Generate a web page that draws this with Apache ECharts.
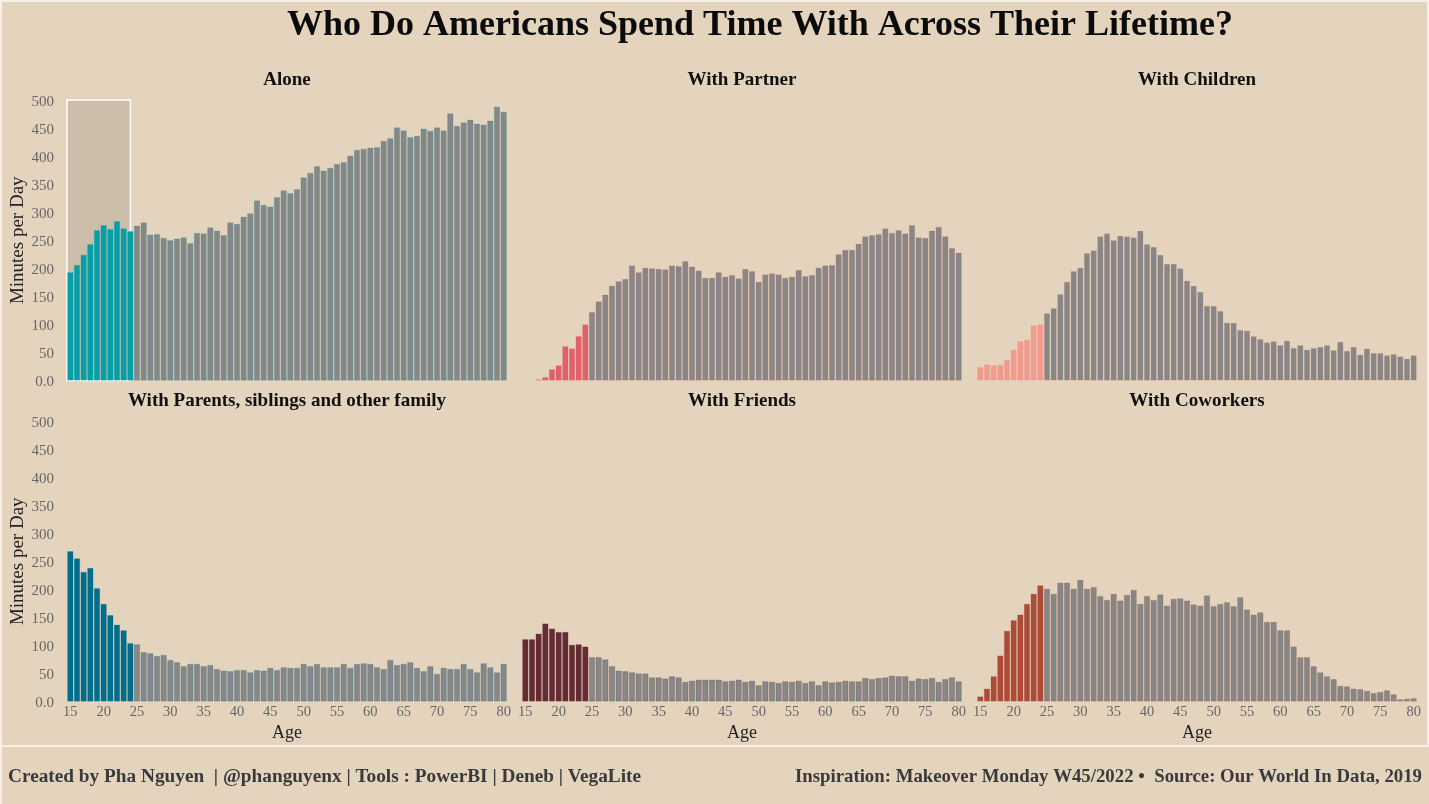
<!DOCTYPE html>
<html><head><meta charset="utf-8">
<style>html,body{margin:0;padding:0;background:#E4D4BD}#c{width:1429px;height:804px}</style>
<script src="https://cdn.jsdelivr.net/npm/echarts@6/dist/echarts.min.js"></script></head>
<body><div id="c"></div>
<script>
const ages=[15,16,17,18,19,20,21,22,23,24,25,26,27,28,29,30,31,32,33,34,35,36,37,38,39,40,41,42,43,44,45,46,47,48,49,50,51,52,53,54,55,56,57,58,59,60,61,62,63,64,65,66,67,68,69,70,71,72,73,74,75,76,77,78,79,80];
const alone=[193,206,224,243,268,277,270,284,271,266,276,282,260,261,254,250,253,255,245,263,262,273,267,259,282,279,292,298,321,313,310,327,339,334,341,362,370,382,374,379,386,389,401,411,413,415,416,427,432,451,446,434,436,449,445,451,446,476,454,460,465,458,456,463,488,479];
const partner=[0,0,2,6,20,27,61,57,79,100,122,141,153,169,177,181,205,193,201,200,199,198,205,204,213,203,196,183,183,193,185,188,182,199,195,176,189,191,189,183,185,197,186,188,201,205,206,225,233,233,244,257,259,261,271,263,268,262,277,255,254,267,274,257,236,228];
const children=[24,29,27,28,37,55,70,73,98,100,120,129,154,176,195,201,227,232,257,262,250,258,257,255,267,243,238,224,208,208,200,178,169,158,133,133,124,103,103,90,89,79,74,68,70,63,71,58,63,55,58,60,63,54,69,53,60,46,57,49,49,45,47,43,39,45];
const family=[268,255,231,238,202,174,154,137,127,104,102,88,86,81,83,74,70,63,67,67,63,65,58,55,54,56,56,52,56,55,60,56,61,60,60,67,63,67,61,61,61,67,60,67,68,67,61,58,74,65,67,70,60,54,63,49,60,58,58,67,58,52,68,61,52,67];
const friends=[111,111,121,139,130,124,124,101,102,98,79,79,75,63,55,54,52,50,50,43,43,41,45,43,35,37,39,39,39,39,36,37,39,35,37,29,36,35,33,36,35,37,33,36,29,36,34,35,37,36,36,42,40,42,43,46,45,45,37,41,40,42,35,40,43,36];
const coworkers=[9,23,45,82,126,145,155,174,192,207,201,192,212,212,201,217,201,204,188,181,192,180,190,199,174,188,181,191,171,183,184,180,173,171,189,170,174,177,170,186,164,155,159,142,142,127,127,98,79,79,63,52,45,40,28,27,23,22,19,15,17,20,13,4,5,6];
const panelNames=['Alone','With Partner','With Children','With Parents, siblings and other family','With Friends','With Coworkers'];
const panelValues=[alone,partner,children,family,friends,coworkers];
const panelColors=['#069FA8','#E0606C','#F29A8E','#006E8C','#652C35','#AD4B39'];
const highlightAges=[15,24];
const yMax=500, yStep=50, grey='#878787';
const serif='"Liberation Serif","DejaVu Serif",serif';
const lefts=[67,522,977], tops=[100,421], pw=440, ph=280.5;
const alpha=(hex,a)=>hex+Math.round(a*255).toString(16).padStart(2,'0');

const grids=[],xAxes=[],yAxes=[],series=[],titles=[];
panelNames.forEach((name,i)=>{
  const col=i%3,row=Math.floor(i/3);
  grids.push({left:lefts[col],top:tops[row],width:pw,height:ph});
  xAxes.push({type:'category',gridIndex:i,data:ages,boundaryGap:true,
    axisLine:{show:false},axisTick:{show:false},
    axisLabel:{show:row===1,interval:4,margin:3,fontFamily:serif,fontSize:14.5,color:'#666'},
    name:row===1?'Age':'',nameLocation:'middle',nameGap:23,
    nameTextStyle:{fontFamily:serif,fontSize:18,color:'#222'}});
  yAxes.push({type:'value',gridIndex:i,min:0,max:yMax,interval:yStep,splitLine:{show:false},
    axisLine:{show:false},axisTick:{show:false},
    axisLabel:{show:col===0,margin:13,fontFamily:serif,fontSize:15,color:'#666',verticalAlign:'top',lineHeight:4,
      formatter:v=>v===0?'0.0':String(v)},
    name:col===0?'Minutes per Day':'',nameLocation:'middle',nameGap:39,
    nameTextStyle:{fontFamily:serif,fontSize:19,color:'#222'}});
  titles.push({text:name,left:lefts[col]+pw/2,top:row===0?71:392,textAlign:'center',padding:0,
    textStyle:{fontFamily:serif,fontSize:19,fontWeight:'bold',color:'#111'}});
  const isHi=idx=>ages[idx]>=highlightAges[0]&&ages[idx]<=highlightAges[1];
  if(i===0){
    series.push({type:'custom',xAxisIndex:i,yAxisIndex:i,z:1,silent:true,
      data:[[0,9,yMax]],
      renderItem:(p,api)=>{
        const a=api.coord([api.value(0),api.value(2)]),b=api.coord([api.value(1),0]);
        const band=api.size([1,0])[0];
        return {type:'rect',shape:{x:a[0]-band/2,y:a[1],width:b[0]-a[0]+band/2,height:b[1]-a[1]},
          style:{fill:'#CDBEAB',stroke:'#FFFFFF',lineWidth:1.5}};
      },encode:{x:[0,1],y:2}});
  }
  series.push({type:'bar',xAxisIndex:i,yAxisIndex:i,z:2,barWidth:'92%',
    data:panelValues[i].map((v,idx)=>({value:v,itemStyle:{
      color:isHi(idx)?panelColors[i]:grey,
      borderColor:alpha(panelColors[i],0.3),borderWidth:v>0?0.7:0}})),
    silent:true,animation:false});
});
titles.push({text:'Who Do Americans Spend Time With Across Their Lifetime?',left:760,top:8,textAlign:'center',padding:0,
  textStyle:{fontFamily:serif,fontSize:36,fontWeight:'bold',color:'#0b0b0b'}});

const edge='#F6F0E6';
const chart=echarts.init(document.getElementById('c'),null,{renderer:'canvas'});
chart.setOption({backgroundColor:'#E4D4BD',animation:false,title:titles,grid:grids,xAxis:xAxes,yAxis:yAxes,series:series,
  graphic:[
    {type:'rect',shape:{x:0,y:745,width:1429,height:2},style:{fill:edge},silent:true},
    {type:'rect',shape:{x:0,y:0,width:2,height:804},style:{fill:edge},silent:true},
    {type:'rect',shape:{x:1427,y:0,width:2,height:746},style:{fill:edge},silent:true},
    {type:'rect',shape:{x:0,y:0,width:1429,height:2},style:{fill:edge},silent:true},
    {type:'text',style:{x:8,y:777,text:'Created by Pha Nguyen  | @phanguyenx | Tools : PowerBI | Deneb | VegaLite',
      font:'bold 19.3px '+serif,fill:'#3a3a3a',textVerticalAlign:'middle'}},
    {type:'text',style:{x:1422,y:777,text:'Inspiration: Makeover Monday W45/2022 \u2022  Source: Our World In Data, 2019',
      font:'bold 18.8px '+serif,fill:'#3a3a3a',textAlign:'right',textVerticalAlign:'middle'}}
  ]});
</script></body></html>
